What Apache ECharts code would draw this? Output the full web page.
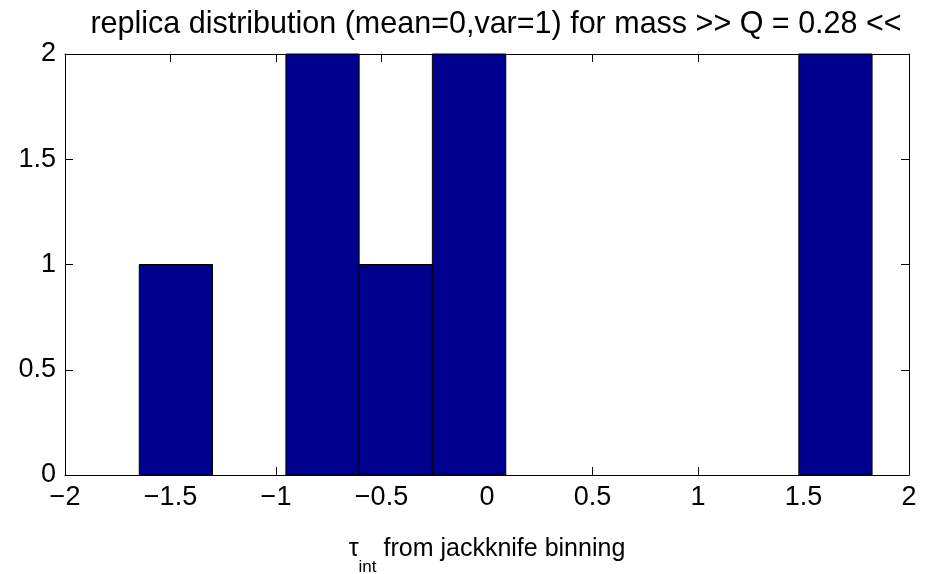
<!DOCTYPE html>
<html>
<head>
<meta charset="utf-8">
<script src="https://cdn.jsdelivr.net/npm/echarts@6/dist/echarts.min.js"></script>
<style>html,body{margin:0;padding:0;background:#fff}#c{width:941px;height:574px}</style>
</head>
<body>
<div id="c"></div>
<script>
// histogram bins (left edge, right edge) and counts
const binStarts = [-1.648, -1.301, -0.953, -0.606, -0.259, 0.089, 0.436, 0.783, 1.131, 1.478];
const binEnds   = [-1.301, -0.953, -0.606, -0.259,  0.089, 0.436, 0.783, 1.131, 1.478, 1.825];
const counts    = [1, 0, 2, 1, 2, 0, 0, 0, 0, 2];
const xTicks = [-2, -1.5, -1, -0.5, 0, 0.5, 1, 1.5, 2];
const yTicks = [0, 0.5, 1, 1.5, 2];

const FONT = 'Liberation Sans, Arial, sans-serif';
const data = binStarts.map((s, i) => [s, binEnds[i], counts[i]]).filter(d => d[2] > 0);
const fmt = v => String(v).replace('-', '\u2212');

const chart = echarts.init(document.getElementById('c'));
const axisLine = {show: true, onZero: false, lineStyle: {color: '#000', width: 1}};
const tick = {show: true, inside: true, length: 8, lineStyle: {color: '#000'}};
chart.setOption({
  animation: false,
  backgroundColor: '#fff',
  title: {
    text: 'replica distribution (mean=0,var=1) for mass >> Q = 0.28 <<',
    left: 491, top: 4, textAlign: 'center',
    textStyle: {fontFamily: FONT, fontSize: 30.5, fontWeight: 'normal', color: '#000'}
  },
  grid: {left: 65, right: 32, top: 54, bottom: 99, outerBoundsMode: 'none', containLabel: false},
  xAxis: [{
    type: 'value', min: -2, max: 2, interval: 0.5, position: 'bottom',
    axisLine, axisTick: tick, splitLine: {show: false},
    axisLabel: {fontFamily: FONT, fontSize: 27, color: '#000', margin: 9, formatter: fmt},
    name: '{t|\u03c4}{s|int} from jackknife binning', nameLocation: 'middle', nameGap: 62,
    nameTextStyle: {
      fontFamily: FONT, fontSize: 25, color: '#000',
      rich: {t: {fontFamily: FONT, fontSize: 25, color: '#000'},
             s: {fontFamily: FONT, fontSize: 17, color: '#000', verticalAlign: 'bottom', padding: [0, 0, -14, 0]}}
    }
  }, {
    type: 'value', min: -2, max: 2, interval: 0.5, position: 'top',
    axisLine, axisTick: tick, axisLabel: {show: false}, splitLine: {show: false}
  }],
  yAxis: [{
    type: 'value', min: 0, max: 2, interval: 0.5, position: 'left',
    axisLine, axisTick: tick, splitLine: {show: false},
    axisLabel: {fontFamily: FONT, fontSize: 27, color: '#000', margin: 9}
  }, {
    type: 'value', min: 0, max: 2, interval: 0.5, position: 'right',
    axisLine, axisTick: tick, axisLabel: {show: false}, splitLine: {show: false}
  }],
  series: [{
    type: 'custom',
    xAxisIndex: 0, yAxisIndex: 0,
    data: data,
    encode: {x: [0, 1], y: 2},
    renderItem: function (params, api) {
      const p0 = api.coord([api.value(0), 0]);
      const p1 = api.coord([api.value(1), api.value(2)]);
      return {
        type: 'rect',
        shape: {x: p0[0], y: p1[1], width: p1[0] - p0[0], height: p0[1] - p1[1]},
        style: {fill: '#00008f', stroke: '#000', lineWidth: 1}
      };
    },
    z: 1
  }]
});
</script>
</body>
</html>
